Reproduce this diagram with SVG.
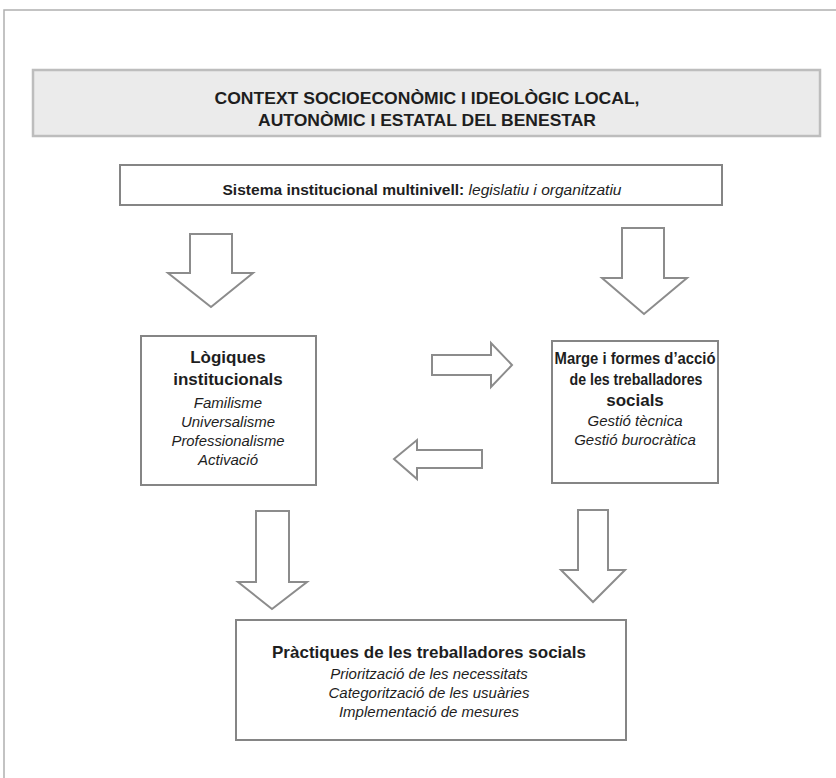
<svg xmlns="http://www.w3.org/2000/svg" width="836" height="778" viewBox="0 0 836 778">
<style>
.frame{fill:none;stroke:#b0b0b0;stroke-width:1.5}
.ctx{fill:#ebebeb;stroke:#bdbdbd;stroke-width:2.5}
.box{fill:#fff;stroke:#858585;stroke-width:2}
.arr{fill:#fff;stroke:#8c8c8c;stroke-width:2;stroke-linejoin:miter}
text{font-family:"Liberation Sans",Arial,sans-serif;fill:#1e1e1e;text-anchor:middle}
.t{font-family:"Liberation Sans Narrow","Liberation Sans",Arial,sans-serif;font-weight:bold;font-size:17px}
.b{font-weight:bold;font-size:17px}
.i{font-style:italic;font-size:15px}
</style>
<path class="frame" d="M4,778 V10 H836"/>
<g id="context">
<rect class="ctx" x="33" y="70" width="787" height="66"/>
<text class="t" x="427" y="104" textLength="425" lengthAdjust="spacingAndGlyphs">CONTEXT SOCIOECONÒMIC I IDEOLÒGIC LOCAL,</text>
<text class="t" x="427" y="126" textLength="338" lengthAdjust="spacingAndGlyphs">AUTONÒMIC I ESTATAL DEL BENESTAR</text>
</g>
<g id="sistema">
<rect class="box" x="120" y="165" width="602" height="40"/>
<text x="422" y="195" font-size="15" textLength="399" lengthAdjust="spacingAndGlyphs"><tspan font-weight="bold">Sistema institucional multinivell:</tspan><tspan font-style="italic"> legislatiu i organitzatiu</tspan></text>
</g>
<g id="logiques">
<rect class="box" x="141" y="336" width="175" height="149"/>
<text class="b" x="228" y="363" font-size="18">Lògiques</text>
<text class="b" x="228" y="385" font-size="18">institucionals</text>
<text class="i" x="228" y="408">Familisme</text>
<text class="i" x="228" y="427">Universalisme</text>
<text class="i" x="228" y="446" textLength="113" lengthAdjust="spacingAndGlyphs">Professionalisme</text>
<text class="i" x="228" y="465">Activació</text>
</g>
<g id="marge">
<rect class="box" x="552" y="341" width="166" height="142"/>
<text class="b" x="635" y="364" textLength="161" lengthAdjust="spacingAndGlyphs">Marge i formes d’acció</text>
<text class="b" x="636" y="385" textLength="133" lengthAdjust="spacingAndGlyphs">de les treballadores</text>
<text class="b" x="635" y="406">socials</text>
<text class="i" x="635" y="426">Gestió tècnica</text>
<text class="i" x="635" y="445">Gestió burocràtica</text>
</g>
<g id="practiques">
<rect class="box" x="236" y="620" width="390" height="120"/>
<text class="b" x="429" y="658" font-size="18" textLength="314" lengthAdjust="spacingAndGlyphs">Pràctiques de les treballadores socials</text>
<text class="i" x="429" y="679">Priorització de les necessitats</text>
<text class="i" x="429" y="698">Categorització de les usuàries</text>
<text class="i" x="429" y="717">Implementació de mesures</text>
</g>
<g id="connectors">
<path class="arr" d="M190,234 H232 V273 H253 L211,307 L168,273 H190 Z"/>
<path class="arr" d="M622,228 H664 V278 H687 L644,314 L602,278 H622 Z"/>
<path class="arr" d="M432,355 H491 V343 L512,365 L491,387 V375 H432 Z"/>
<path class="arr" d="M482,450 H417 V440 L394,459 L417,479 V468 H482 Z"/>
<path class="arr" d="M256,511 H289 V582 H307 L272,609 L238,582 H256 Z"/>
<path class="arr" d="M578,510 H608 V570 H625 L593,602 L561,570 H578 Z"/>
</g>
</svg>
